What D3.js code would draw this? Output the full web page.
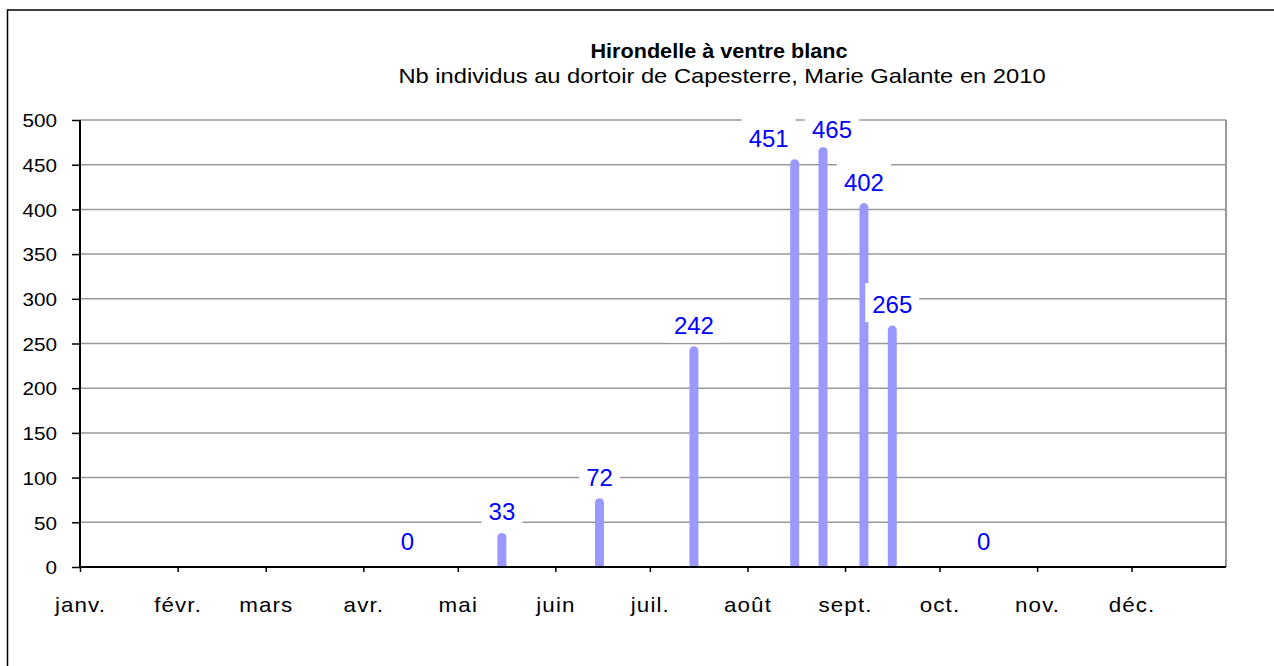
<!DOCTYPE html>
<html>
<head>
<meta charset="utf-8">
<script src="https://cdn.jsdelivr.net/npm/d3@7"></script>
<style>
	body { margin: 0; background: #fff; }
	svg { display: block; font-family: "Liberation Sans", Arial, sans-serif; }
</style>
</head>
<body>
<div class="chart"></div>
<script>
const chartTitle = "Hirondelle à ventre blanc";
const chartSubtitle = "Nb individus au dortoir de Capesterre, Marie Galante en 2010";

// comptages au dortoir
const obsDates = ["2010-04-15", "2010-05-15", "2010-06-15", "2010-07-15", "2010-08-16", "2010-08-25", "2010-09-07", "2010-09-16", "2010-10-15"];
const counts = [0, 33, 72, 242, 451, 465, 402, 265, 0];

const monthLabels = ["janv.", "févr.", "mars", "avr.", "mai", "juin", "juil.", "août", "sept.", "oct.", "nov.", "déc."];
const yTickValues = [0, 50, 100, 150, 200, 250, 300, 350, 400, 450, 500];
const yearStart = "2010-01-01",
	yearEnd = "2010-12-31";

var w = 1274,
	h = 666,
	plotLeft = 80,
	plotRight = 1226,
	plotTop = 120,
	plotBottom = 567,
	barWidth = 9,
	barColor = "#9999ff",
	labelColor = "#0000ff";

// Excel a decale deux etiquettes pour eviter le chevauchement
const labelNudge = { 4: { dx: -26, dy: 0 }, 5: { dx: 9, dy: 4 } };

const parseDate = d3.timeParse("%Y-%m-%d");
const dataset = obsDates.map((d, i) => ({ date: parseDate(d), value: counts[i] }));

const svg = d3.select(".chart").append("svg").attr("width", w).attr("height", h);

// cadre du graphique
svg
	.append("rect")
	.attr("x", 7.5)
	.attr("y", 10)
	.attr("width", w + 20)
	.attr("height", h + 20)
	.attr("fill", "none")
	.attr("stroke", "#000")
	.attr("stroke-width", 1.5);

svg
	.append("text")
	.attr("transform", "translate(719,58) scale(1.03,1)")
	.attr("text-anchor", "middle")
	.style("font-size", "21px")
	.style("font-weight", "bold")
	.text(chartTitle);

svg
	.append("text")
	.attr("transform", "translate(722,83) scale(1.13,1)")
	.attr("text-anchor", "middle")
	.style("font-size", "21px")
	.text(chartSubtitle);

const xScale = d3
	.scaleTime()
	.domain([parseDate(yearStart), parseDate(yearEnd)])
	.range([plotLeft, plotRight]);

const yScale = d3.scaleLinear().domain([0, 500]).range([plotBottom, plotTop]);

// quadrillage
svg
	.append("g")
	.selectAll("line")
	.data(yTickValues.slice(1))
	.enter()
	.append("line")
	.attr("x1", plotLeft)
	.attr("x2", plotRight)
	.attr("y1", (d) => yScale(d))
	.attr("y2", (d) => yScale(d))
	.attr("stroke", "#999")
	.attr("stroke-width", 1.5);

svg
	.append("line")
	.attr("x1", plotRight)
	.attr("x2", plotRight)
	.attr("y1", plotTop)
	.attr("y2", plotBottom)
	.attr("stroke", "#999")
	.attr("stroke-width", 2);

svg
	.append("clipPath")
	.attr("id", "plot-clip")
	.append("rect")
	.attr("x", plotLeft)
	.attr("y", 0)
	.attr("width", plotRight - plotLeft)
	.attr("height", plotBottom);

// barres (bout arrondi en haut)
svg
	.append("g")
	.attr("clip-path", "url(#plot-clip)")
	.selectAll("rect")
	.data(dataset.filter((d) => d.value > 0))
	.enter()
	.append("rect")
	.attr("x", (d) => xScale(d.date) - barWidth / 2)
	.attr("y", (d) => yScale(d.value) - barWidth / 2)
	.attr("width", barWidth)
	.attr("height", (d) => plotBottom - yScale(d.value) + barWidth * 2)
	.attr("rx", barWidth / 2)
	.attr("fill", barColor);

const xAxis = d3
	.axisBottom(xScale)
	.ticks(d3.timeMonth.every(1))
	.tickSize(5)
	.tickPadding(26)
	.tickFormat((d) => monthLabels[d.getMonth()]);

const yAxis = d3
	.axisLeft(yScale)
	.tickValues(yTickValues)
	.tickSize(8)
	.tickPadding(15)
	.tickFormat(d3.format("d"));

const gx = svg
	.append("g")
	.attr("id", "x-axis")
	.attr("transform", "translate(0," + plotBottom + ")")
	.call(xAxis);
gx.select(".domain").attr("stroke", "#000").attr("stroke-width", 2).attr("d", "M" + plotLeft + ",0H" + plotRight);
gx.selectAll(".tick line").attr("stroke", "#000").attr("stroke-width", 1.5);
gx.selectAll(".tick text")
	.attr("fill", "#000")
	.style("font-size", "20px")
	.style("letter-spacing", "1px")
	.attr("transform", "scale(1.12,1)");

const gy = svg
	.append("g")
	.attr("id", "y-axis")
	.attr("transform", "translate(" + plotLeft + ",0)")
	.call(yAxis);
gy.select(".domain").attr("stroke", "#000").attr("stroke-width", 2).attr("d", "M0," + (plotBottom + 1) + "V" + plotTop);
gy.selectAll(".tick line").attr("stroke", "#000").attr("stroke-width", 1.5);
gy.selectAll(".tick text")
	.attr("fill", "#000")
	.style("font-size", "18px")
	.attr("x", null)
	.attr("transform", "translate(-23,1) scale(1.15,1)");

// etiquettes de donnees avec fond blanc
const labels = svg
	.append("g")
	.selectAll("g")
	.data(dataset)
	.enter()
	.append("g")
	.attr("transform", function (d, i) {
		var n = labelNudge[i] || { dx: 0, dy: 0 };
		return "translate(" + (xScale(d.date) + n.dx) + "," + (yScale(d.value) - 17 + n.dy) + ")";
	});

labels
	.append("text")
	.attr("text-anchor", "middle")
	.attr("fill", labelColor)
	.style("font-size", "24px")
	.text((d) => d.value);

// les etiquettes a zero ne masquent pas le quadrillage
labels
	.filter((d) => d.value > 0)
	.each(function () {
		var g = d3.select(this);
		var bb = g.select("text").node().getBBox();
		g.insert("rect", "text")
			.attr("x", bb.x - 7)
			.attr("y", -30)
			.attr("width", bb.width + 14)
			.attr("height", 39)
			.attr("fill", "#fff");
	});
</script>
</body>
</html>
